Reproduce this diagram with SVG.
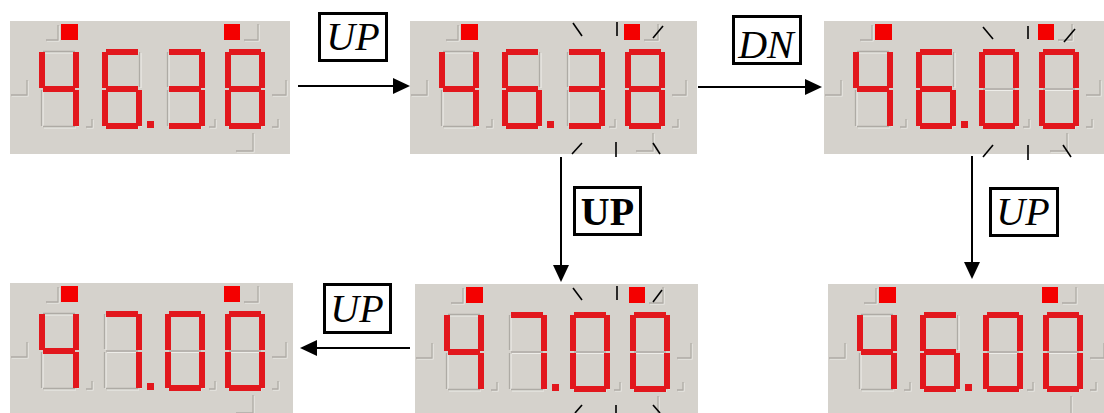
<svg xmlns="http://www.w3.org/2000/svg" xmlns:xlink="http://www.w3.org/1999/xlink" width="1104" height="413" viewBox="0 0 1104 413">
<style>
.bg{fill:#d5d2cc}
.seg{fill:#e2171d}
.led{fill:#f40000}
.ghost{fill:none;stroke:#aeaba5;stroke-width:1.3}
.hl{fill:none;stroke:#eeede9;stroke-width:1.1}
.blink{stroke:#000;stroke-width:1.6}
.conn{stroke:#000;stroke-width:2;fill:none}
.box{fill:#fff;stroke:#000;stroke-width:3}
.lbl{font-family:"Liberation Serif","Times New Roman",serif;font-size:40px;font-style:italic;text-anchor:middle;fill:#000}
.lblb{font-family:"Liberation Serif","Times New Roman",serif;font-size:40px;font-weight:bold;text-anchor:middle;fill:#000}
</style>
<defs>
<marker id="ah" viewBox="0 0 17 16" refX="15" refY="8" markerWidth="17" markerHeight="16" markerUnits="userSpaceOnUse" orient="auto">
<path d="M0,0 L17,8 L0,16 Z" fill="#000"/>
</marker>
<rect id="sa" class="seg" x="4" y="0" width="32" height="6"/>
<rect id="sb" class="seg" x="34" y="3" width="6" height="36"/>
<rect id="sc" class="seg" x="34" y="41" width="6" height="36"/>
<rect id="sd" class="seg" x="4" y="74" width="32" height="6"/>
<rect id="se" class="seg" x="0" y="41" width="6" height="36"/>
<rect id="sf" class="seg" x="0" y="3" width="6" height="36"/>
<rect id="sg" class="seg" x="4" y="37" width="32" height="6"/>
<g id="ghost8">
<path class="hl" d="M4,4 V39 M4,42 V78 M39,4 V39 M39,42 V78 M5,4 H37 M5,41.5 H37 M5,79 H37"/>
<path class="ghost" d="M2.5,3 V38 M2.5,41 V77 M37.5,3 V38 M37.5,41 V77 M4,2.5 H36 M4,40 H36 M4,77.5 H36"/>
</g>
<g id="deco">
<path class="hl" d="M49,5 V20 H37 M249,4 V20 H235 M18,60 V75 H2 M277,60 V75 H263 M83,99 V107 H77 M206,99 V107 H200 M269,99 V107 H263 M244,113 V131 H227"/>
<path class="ghost" d="M48,4 V19 H36 M248,3 V19 H234 M17,59 V74 H1 M276,59 V74 H262 M82,98 V106 H76 M205,98 V106 H199 M268,98 V106 H262 M243,112 V130 H226"/>
<use xlink:href="#ghost8" x="29" y="28"/>
<use xlink:href="#ghost8" x="92" y="28"/>
<use xlink:href="#ghost8" x="155" y="28"/>
<use xlink:href="#ghost8" x="215" y="28"/>
<rect class="led" x="51" y="3" width="17" height="16"/>
<rect class="led" x="214" y="3" width="16" height="16"/>
<rect class="seg" x="137" y="100" width="7" height="7"/>
</g>
<g id="d4"><use xlink:href="#sf"/><use xlink:href="#sg"/><use xlink:href="#sb"/><use xlink:href="#sc"/></g>
<g id="d6"><use xlink:href="#sa"/><use xlink:href="#sf"/><use xlink:href="#sg"/><use xlink:href="#se"/><use xlink:href="#sd"/><use xlink:href="#sc"/></g>
<g id="d3"><use xlink:href="#sa"/><use xlink:href="#sb"/><use xlink:href="#sg"/><use xlink:href="#sc"/><use xlink:href="#sd"/></g>
<g id="d8"><use xlink:href="#sa"/><use xlink:href="#sb"/><use xlink:href="#sc"/><use xlink:href="#sd"/><use xlink:href="#se"/><use xlink:href="#sf"/><use xlink:href="#sg"/></g>
<g id="d0"><use xlink:href="#sa"/><use xlink:href="#sb"/><use xlink:href="#sc"/><use xlink:href="#sd"/><use xlink:href="#se"/><use xlink:href="#sf"/></g>
<g id="d7"><use xlink:href="#sa"/><use xlink:href="#sb"/><use xlink:href="#sc"/></g>
</defs>

<g id="display-1" transform="translate(10,21)">
<rect class="bg" width="280" height="133"/>
<use xlink:href="#deco"/>
<use xlink:href="#d4" x="29" y="28"/><use xlink:href="#d6" x="92" y="28"/><use xlink:href="#d3" x="155" y="28"/><use xlink:href="#d8" x="215" y="28"/>
</g>

<g id="display-2" transform="translate(410,21)">
<rect class="bg" width="287" height="133"/>
<use xlink:href="#deco"/>
<use xlink:href="#d4" x="29" y="28"/><use xlink:href="#d6" x="92" y="28"/><use xlink:href="#d3" x="155" y="28"/><use xlink:href="#d8" x="215" y="28"/>
</g>

<g id="display-3" transform="translate(824,21)">
<rect class="bg" width="280" height="133"/>
<use xlink:href="#deco"/>
<use xlink:href="#d4" x="29" y="28"/><use xlink:href="#d6" x="92" y="28"/><use xlink:href="#d0" x="155" y="28"/><use xlink:href="#d0" x="215" y="28"/>
</g>

<g id="display-4" transform="translate(10,283)">
<rect class="bg" width="283" height="130"/>
<use xlink:href="#deco"/>
<use xlink:href="#d4" x="29" y="28"/><use xlink:href="#d7" x="92" y="28"/><use xlink:href="#d0" x="155" y="28"/><use xlink:href="#d0" x="215" y="28"/>
</g>

<g id="display-5" transform="translate(415,284)">
<rect class="bg" width="283" height="129"/>
<use xlink:href="#deco"/>
<use xlink:href="#d4" x="29" y="28"/><use xlink:href="#d7" x="92" y="28"/><use xlink:href="#d0" x="155" y="28"/><use xlink:href="#d0" x="215" y="28"/>
</g>

<g id="display-6" transform="translate(828,284)">
<rect class="bg" width="276" height="129"/>
<use xlink:href="#deco"/>
<use xlink:href="#d4" x="29" y="28"/><use xlink:href="#d6" x="92" y="28"/><use xlink:href="#d0" x="155" y="28"/><use xlink:href="#d0" x="215" y="28"/>
</g>

<g id="blink-marks">
<line class="blink" x1="573" y1="23" x2="582" y2="36"/>
<line class="blink" x1="617" y1="22" x2="617" y2="36"/>
<line class="blink" x1="663" y1="26" x2="653" y2="38"/>
<line class="blink" x1="582" y1="143" x2="572" y2="154"/>
<line class="blink" x1="616" y1="142" x2="616" y2="157"/>
<line class="blink" x1="653" y1="143" x2="660" y2="154"/>
<line class="blink" x1="983" y1="27" x2="993" y2="39"/>
<line class="blink" x1="1028" y1="26" x2="1028" y2="39"/>
<line class="blink" x1="1075" y1="29" x2="1064" y2="42"/>
<line class="blink" x1="993" y1="145" x2="983" y2="157"/>
<line class="blink" x1="1028" y1="145" x2="1028" y2="160"/>
<line class="blink" x1="1063" y1="145" x2="1071" y2="157"/>
<line class="blink" x1="573" y1="288" x2="582" y2="300"/>
<line class="blink" x1="617" y1="286" x2="617" y2="300"/>
<line class="blink" x1="662" y1="290" x2="653" y2="302"/>
<line class="blink" x1="582" y1="405" x2="575" y2="413"/>
<line class="blink" x1="616" y1="405" x2="616" y2="413"/>
<line class="blink" x1="653" y1="405" x2="660" y2="413"/>
</g>

<g id="connectors">
<line class="conn" x1="298" y1="86" x2="408" y2="86" marker-end="url(#ah)"/>
<line class="conn" x1="698" y1="87" x2="820" y2="87" marker-end="url(#ah)"/>
<line class="conn" x1="561" y1="157" x2="561" y2="280" marker-end="url(#ah)"/>
<line class="conn" x1="972" y1="156" x2="972" y2="277" marker-end="url(#ah)"/>
<line class="conn" x1="410" y1="348" x2="302" y2="348" marker-end="url(#ah)"/>
</g>

<g id="label-up-1">
<rect class="box" x="319.5" y="13.5" width="67" height="47"/>
<text class="lbl" x="353" y="50">UP</text>
</g>
<g id="label-dn">
<rect class="box" x="733.5" y="16.5" width="67" height="47"/>
<text class="lbl" x="766" y="58">DN</text>
</g>
<g id="label-up-bold">
<rect class="box" x="574.5" y="187.5" width="66" height="47"/>
<text class="lblb" x="607.5" y="225">UP</text>
</g>
<g id="label-up-right">
<rect class="box" x="990.5" y="188.5" width="67" height="47"/>
<text class="lbl" x="1023" y="225">UP</text>
</g>
<g id="label-up-bottom">
<rect class="box" x="324.5" y="284.5" width="66" height="48"/>
<text class="lbl" x="357" y="322">UP</text>
</g>
</svg>
